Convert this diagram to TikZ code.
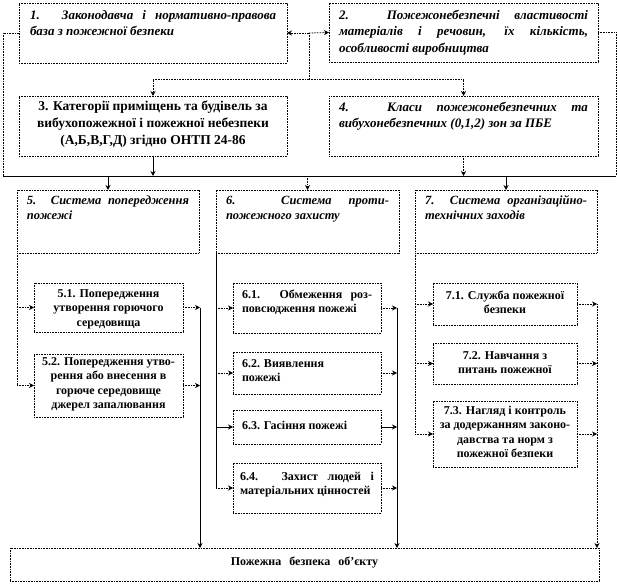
\documentclass[tikz,border=0pt]{standalone}
\usepackage{fontspec}
\setmainfont{Liberation Serif}
\usetikzlibrary{arrows.meta}
\hyphenpenalty=10000
\exhyphenpenalty=10000
\tolerance=10000
\tikzset{
  dotln/.style={line width=0.8pt, dash pattern=on 0.8pt off 0.8pt},
  solln/.style={line width=0.8pt},
  tip/.style={-{Stealth[length=5pt,width=5pt]}},
  boxst/.style={draw=black, dotln, inner ysep=0pt, anchor=north west, outer sep=0pt},
}
\newcommand\mfA{\fontsize{13}{16.5}\selectfont\bfseries\itshape}
\newcommand\mfB{\fontsize{13.5}{17}\selectfont\bfseries}
\newcommand\mfC{\fontsize{12.5}{15}\selectfont\bfseries\itshape}
\newcommand\mfD{\fontsize{12}{14.5}\selectfont\bfseries}
% name, x1, y1, x2, y2, pad, format, text
\newcommand\MB[8]{%
  \node[boxst, inner xsep=#6pt] (#1) at (#2,#3)
   {\parbox[c][\dimexpr #5pt-#3pt\relax][t]{\dimexpr #4pt-#2pt-#6pt-#6pt\relax}{#7\strut #8\par}};
}
\begin{document}
\begin{tikzpicture}[x=1pt,y=-1pt]
\useasboundingbox (0,0) rectangle (618,585);
% level 1
\MB{b1}{19}{3}{287}{63}{11}{\mfA\vspace*{4.5pt}}{1. Законодавча і нормативно-правова\linebreak база з пожежної безпеки}
\MB{b2}{329}{3}{598}{62}{10}{\mfA\vspace*{4.5pt}}{2. Пожежонебезпечні властивості\linebreak матеріалів і речовин, їх кількість,\linebreak особливості виробництва}
% level 2
\MB{b3}{19}{96}{287}{156}{6}{\centering\mfB\vspace*{3pt}}{3. Категорії приміщень та будівель за\\ вибухопожежної і пожежної небезпеки\\ (А,Б,В,Г,Д) згідно ОНТП 24-86}
\MB{b4}{329}{96}{598}{156}{10}{\mfA\vspace*{3.5pt}}{4. Класи пожежонебезпечних та\linebreak вибухонебезпечних (0,1,2) зон за ПБЕ}
% level 3
\MB{b5}{17}{190}{199}{253}{10}{\mfC\vspace*{4.5pt}}{5. Система попередження\linebreak пожежі}
\MB{b6}{216}{190}{399}{253}{10}{\mfC\vspace*{4.5pt}}{6. Система проти-\linebreak пожежного захисту}
\MB{b7}{415}{190}{597}{253}{10}{\mfC\vspace*{4.5pt}}{7. Система організаційно-\linebreak технічних заходів}
% sub boxes column 5
\MB{s51}{34}{283}{183}{332}{4}{\centering\mfD\vspace*{4pt}}{5.1. Попередження\\ утворення горючого\\ середовища}
\MB{s52}{34}{354}{183}{417}{4}{\centering\mfD\vspace*{1pt}}{5.2. Попередження утво-\\ рення або внесення в\\ горюче середовище\\ джерел запалювання}
% column 6
\MB{s61}{233}{283}{381}{333}{9}{\mfD\vspace*{5pt}}{6.1. Обмеження роз-\linebreak повсюдження пожежі}
\MB{s62}{233}{352}{381}{394}{9}{\mfD\vspace*{5pt}}{6.2. Виявлення\\ пожежі}
\MB{s63}{233}{410}{381}{444}{9}{\mfD\vspace*{9pt}}{6.3. Гасіння пожежі}
\MB{s64}{233}{463}{381}{513}{7}{\mfD\vspace*{7pt}}{6.4. Захист людей і\linebreak матеріальних цінностей}
% column 7
\MB{s71}{433}{283}{577}{325}{4}{\centering\mfD\vspace*{6pt}}{7.1. Служба пожежної\\ безпеки}
\MB{s72}{433}{343}{577}{384}{4}{\centering\mfD\vspace*{6pt}}{7.2. Навчання з\\ питань пожежної}
\MB{s73}{433}{401}{577}{467}{4}{\centering\mfD\vspace*{3pt}}{7.3. Нагляд і контроль\\ за додержанням законо-\\ давства та норм з\\ пожежної безпеки}
% bottom
\MB{bot}{10}{548}{599}{581}{6}{\centering\mfD\vspace*{7pt}}{Пожежна\hspace{5pt} безпека\hspace{5pt} об’єкту}

% top connectors
\coordinate (m) at (309,33);
\coordinate (m2) at (309,79);
\draw[dotln,tip] (m) -- (b1.east);
\draw[dotln,tip] (m) -- (b2.west);
\draw[dotln] (m) -- (m2);
\draw[dotln,tip] (m2) -| (b3.north);
\draw[dotln,tip] (m2) -| (b4.north);
% side lines and bus
\coordinate (busL) at (3,176);
\coordinate (busR) at (616,176);
\draw[dotln] (b1.west) -| (busL);
\draw[dotln] (b2.east) -| (busR);
\draw[solln] (busL) -- (busR);
\draw[solln,tip] (b3.south) -- (b3.south |- busL);
\draw[dotln,tip] (b4.south) -- (b4.south |- busL);
\draw[solln,tip] (b5.north |- busL) -- (b5.north);
\draw[dotln,tip] (b6.north |- busL) -- (b6.north);
\draw[solln,tip] (b7.north |- busL) -- (b7.north);
% column 5
\coordinate (r5) at (200,0);
\draw[dotln] (b5.south west) -- (b5.south west |- s52.west);
\draw[dotln,tip] (b5.south west |- s51.west) -- (s51.west);
\draw[dotln,tip] (b5.south west |- s52.west) -- (s52.west);
\draw[dotln,tip] (s51.east) -- (s51.east -| r5);
\draw[dotln,tip] (s52.east) -- (s52.east -| r5);
\draw[solln,tip] (s51.east -| r5) -- (r5 |- bot.north);
% column 6
\coordinate (r6) at (397,0);
\draw[solln] (b6.south west) -- (b6.south west |- s64.west);
\draw[dotln,tip] (b6.south west |- s61.west) -- (s61.west);
\draw[dotln,tip] (b6.south west |- s62.west) -- (s62.west);
\draw[solln,tip] (b6.south west |- s63.west) -- (s63.west);
\draw[dotln,tip] (b6.south west |- s64.west) -- (s64.west);
\draw[dotln,tip] (s61.east) -- (s61.east -| r6);
\draw[dotln,tip] (s62.east) -- (s62.east -| r6);
\draw[solln,tip] (s63.east) -- (s63.east -| r6);
\draw[dotln,tip] (s64.east) -- (s64.east -| r6);
\draw[solln,tip] (s61.east -| r6) -- (r6 |- bot.north);
% column 7
\coordinate (r7) at (597,0);
\draw[dotln] (b7.south west) -- (b7.south west |- s73.west);
\draw[dotln,tip] (b7.south west |- s71.west) -- (s71.west);
\draw[dotln,tip] (b7.south west |- s72.west) -- (s72.west);
\draw[dotln,tip] (b7.south west |- s73.west) -- (s73.west);
\draw[dotln,tip] (s71.east) -- (s71.east -| r7);
\draw[dotln,tip] (s72.east) -- (s72.east -| r7);
\draw[dotln,tip] (s73.east) -- (s73.east -| r7);
\draw[dotln,tip] (s71.east -| r7) -- (r7 |- bot.north);
\end{tikzpicture}
\end{document}
